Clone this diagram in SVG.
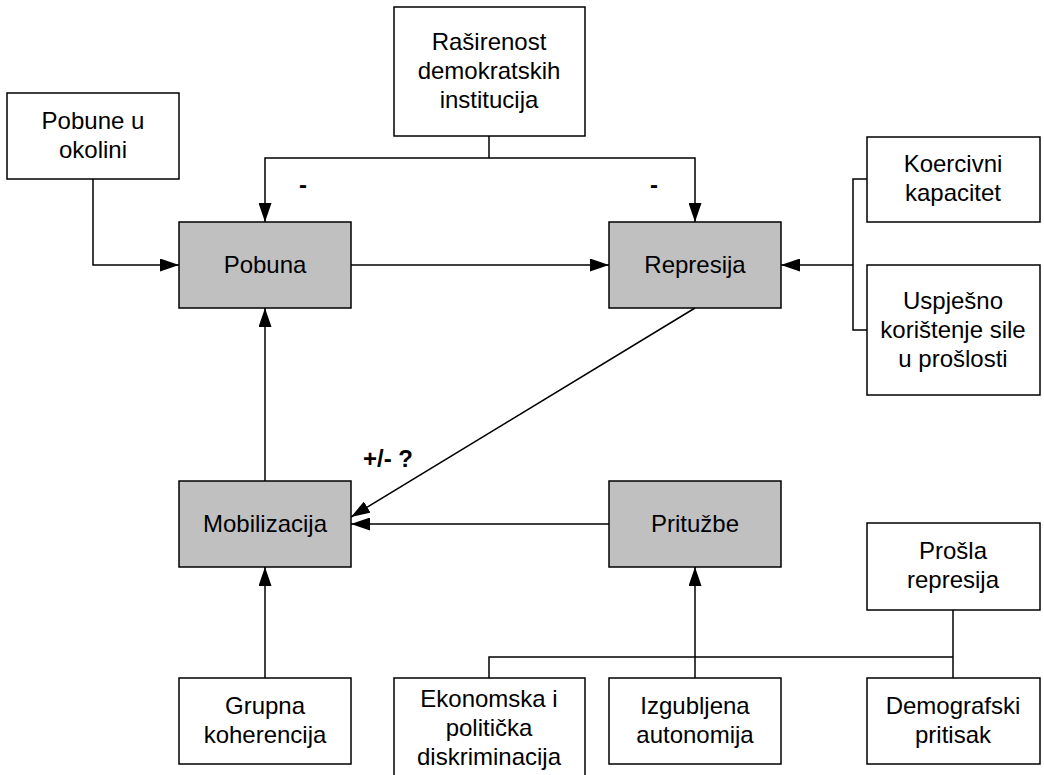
<svg xmlns="http://www.w3.org/2000/svg" width="1044" height="775" viewBox="0 0 1044 775">
<style>
.box{fill:#fff;stroke:#000;stroke-width:1.5}
.core{fill:#c0c0c0;stroke:#000;stroke-width:1.5}
text{font-family:"Liberation Sans",Arial,sans-serif;font-size:24px;fill:#000;text-anchor:middle}
.lbl{font-weight:bold}
.c{fill:none;stroke:#000;stroke-width:1.5}
</style>
<defs>
<marker id="ah" markerWidth="19" markerHeight="13" refX="19" refY="6.5" orient="auto" markerUnits="userSpaceOnUse">
<path d="M0,0 L19,6.5 L0,13 z" fill="#000"/>
</marker>
</defs>
<rect width="1044" height="775" fill="#fff"/>
<g id="connectors">
<path class="c" d="M93,179 V265 H179" marker-end="url(#ah)"/>
<path class="c" d="M489,136 V158"/>
<path class="c" d="M489,158 H265 V222" marker-end="url(#ah)"/>
<path class="c" d="M489,158 H695 V222" marker-end="url(#ah)"/>
<path class="c" d="M351,265 H609" marker-end="url(#ah)"/>
<path class="c" d="M867,179 H853 V330 H867"/>
<path class="c" d="M853,265 H781" marker-end="url(#ah)"/>
<path class="c" d="M695,308 L351,517" marker-end="url(#ah)"/>
<path class="c" d="M609,524 H351" marker-end="url(#ah)"/>
<path class="c" d="M265,481 V308" marker-end="url(#ah)"/>
<path class="c" d="M265,678 V567" marker-end="url(#ah)"/>
<path class="c" d="M489,678 V657 H953"/>
<path class="c" d="M953,610 V678"/>
<path class="c" d="M695,678 V567" marker-end="url(#ah)"/>
<text class="lbl" x="303" y="193">-</text>
<text class="lbl" x="654" y="193">-</text>
<text class="lbl" x="388" y="467">+/- ?</text>
</g>
<g id="pobune-okolini"><rect class="box" x="7" y="93" width="172" height="86"/><text x="93" y="129">Pobune u</text><text x="93" y="158">okolini</text></g>
<g id="rasirenost"><rect class="box" x="394" y="7" width="191" height="129"/><text x="489" y="50">Raširenost</text><text x="489" y="79">demokratskih</text><text x="489" y="108">institucija</text></g>
<g id="pobuna"><rect class="core" x="179" y="222" width="172" height="86"/><text x="265" y="273">Pobuna</text></g>
<g id="represija"><rect class="core" x="609" y="222" width="172" height="86"/><text x="695" y="273">Represija</text></g>
<g id="koercivni"><rect class="box" x="867" y="137" width="173" height="85"/><text x="953" y="172">Koercivni</text><text x="953" y="201">kapacitet</text></g>
<g id="uspjesno"><rect class="box" x="867" y="265" width="173" height="130"/><text x="953" y="309">Uspješno</text><text x="953" y="338">korištenje sile</text><text x="953" y="367">u prošlosti</text></g>
<g id="mobilizacija"><rect class="core" x="179" y="481" width="172" height="86"/><text x="265" y="532">Mobilizacija</text></g>
<g id="pritužbe"><rect class="core" x="609" y="481" width="172" height="86"/><text x="695" y="532">Pritužbe</text></g>
<g id="prosla"><rect class="box" x="867" y="523" width="173" height="87"/><text x="953" y="559">Prošla</text><text x="953" y="588">represija</text></g>
<g id="grupna"><rect class="box" x="179" y="678" width="172" height="86"/><text x="265" y="714">Grupna</text><text x="265" y="743">koherencija</text></g>
<g id="ekonomska"><rect class="box" x="394" y="678" width="191" height="120"/><text x="489" y="707">Ekonomska i</text><text x="489" y="736">politička</text><text x="489" y="765">diskriminacija</text></g>
<g id="izgubljena"><rect class="box" x="609" y="678" width="172" height="86"/><text x="695" y="714">Izgubljena</text><text x="695" y="743">autonomija</text></g>
<g id="demografski"><rect class="box" x="867" y="678" width="173" height="86"/><text x="953" y="714">Demografski</text><text x="953" y="743">pritisak</text></g>
</svg>
